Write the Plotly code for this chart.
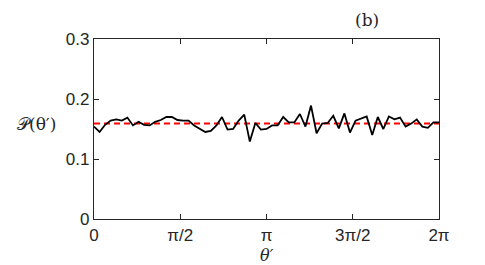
import numpy as np
import plotly.graph_objects as go

# Probability density values
p_values = [0.154, 0.145, 0.157, 0.164, 0.166, 0.164, 0.169, 0.156, 0.162, 0.157,
            0.156, 0.162, 0.165, 0.170, 0.170, 0.165, 0.164, 0.164, 0.156, 0.151,
            0.145, 0.147, 0.156, 0.170, 0.149, 0.150, 0.164, 0.174, 0.129, 0.160,
            0.149, 0.150, 0.156, 0.156, 0.170, 0.161, 0.161, 0.175, 0.154, 0.189,
            0.143, 0.159, 0.160, 0.172, 0.151, 0.176, 0.144, 0.164, 0.167, 0.171,
            0.140, 0.170, 0.150, 0.171, 0.166, 0.169, 0.154, 0.159, 0.166, 0.154,
            0.152, 0.161, 0.161]
theta = np.linspace(0, 2 * np.pi, len(p_values))
uniform_level = 1 / (2 * np.pi)

x_tickvals = [0, np.pi / 2, np.pi, 3 * np.pi / 2, 2 * np.pi]
x_ticktext = ["0", "π/2", "π", "3π/2", "2π"]
y_tickvals = [0, 0.1, 0.2, 0.3]
y_ticktext = ["0", "0.1", "0.2", "0.3"]

fig = go.Figure()
fig.add_trace(go.Scatter(x=[0, 2 * np.pi], y=[uniform_level, uniform_level], mode="lines",
                         line=dict(color="#ff0000", width=2, dash="6px,4px"), showlegend=False))
fig.add_trace(go.Scatter(x=theta, y=p_values, mode="lines",
                         line=dict(color="black", width=1.8), showlegend=False))

axis_common = dict(showgrid=False, zeroline=False, showline=True, linecolor="#262626",
                   linewidth=1.2, mirror="ticks", ticks="inside", ticklen=5,
                   tickcolor="#262626", tickwidth=1,
                   tickfont=dict(family="Liberation Sans, Arial", size=17, color="#262626"))

fig.update_layout(
    width=477, height=257,
    margin=dict(l=86, r=46, t=31, b=46),
    paper_bgcolor="white", plot_bgcolor="white",
    xaxis=dict(range=[0, 2 * np.pi], tickvals=x_tickvals, ticktext=x_ticktext, **axis_common),
    yaxis=dict(range=[0, 0.3], tickvals=y_tickvals, ticktext=y_ticktext, **axis_common),
)
fig.add_annotation(text="𝒫(θ′)", xref="paper", yref="paper", x=-0.105, y=0.53,
                   xanchor="right", yanchor="middle", showarrow=False,
                   font=dict(family="DejaVu Serif", size=17, color="#262626"))
fig.add_annotation(text="<i>θ′</i>", xref="paper", yref="paper", x=0.5, y=-0.14,
                   xanchor="center", yanchor="top", showarrow=False,
                   font=dict(family="DejaVu Serif", size=16, color="#262626"))
fig.add_annotation(text="(b)", xref="paper", yref="paper", x=0.79, y=1.04,
                   xanchor="center", yanchor="bottom", showarrow=False,
                   font=dict(family="DejaVu Serif", size=17, color="#262626"))

fig.write_html("out.html")
